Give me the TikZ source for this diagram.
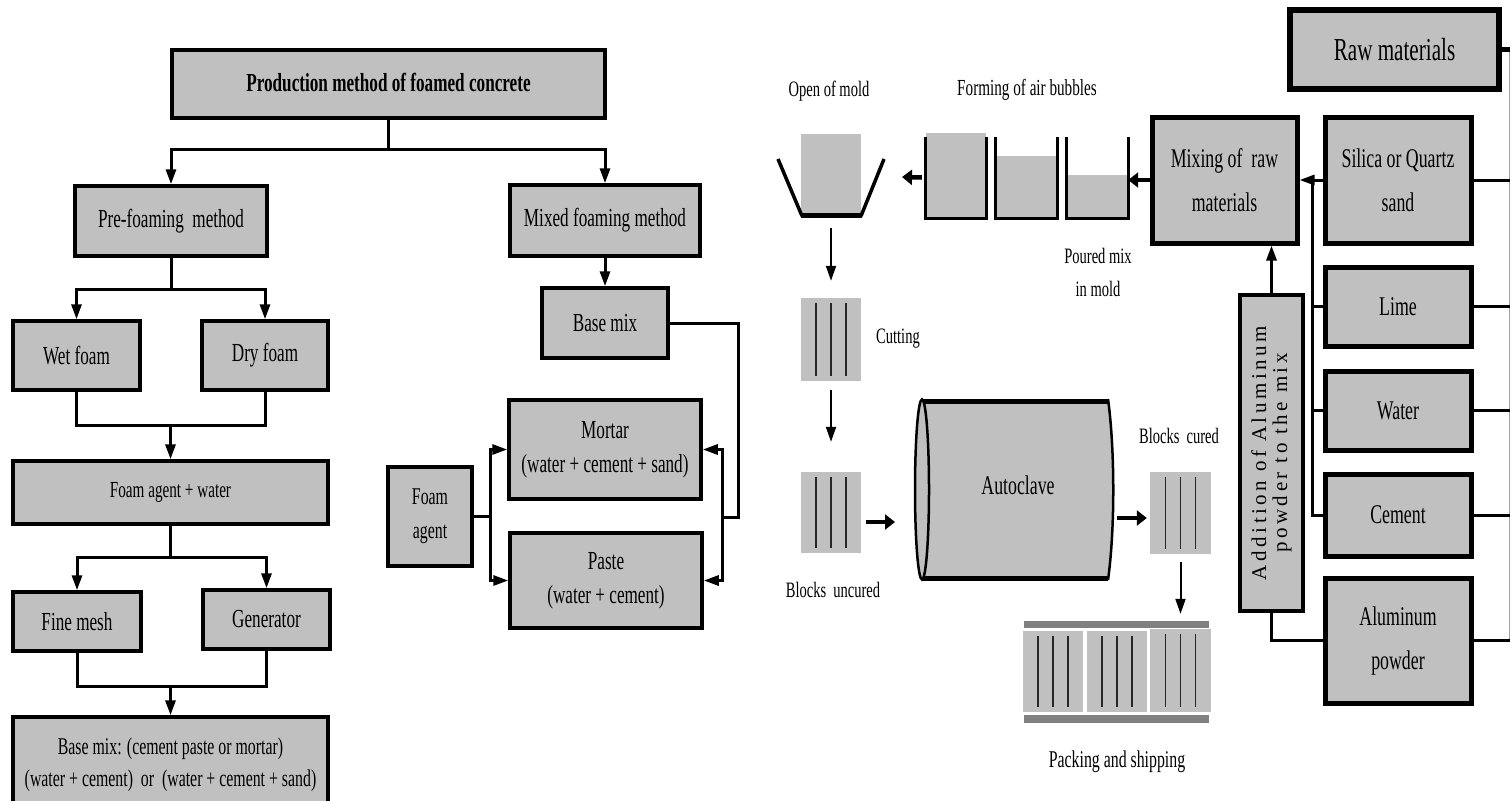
\documentclass[tikz,border=0pt]{standalone}
\usepackage{fontspec}
\setmainfont[FakeStretch=0.66]{Liberation Serif}
\newfontfamily\addfont[LetterSpace=17]{Liberation Serif}
\usetikzlibrary{arrows.meta}
\definecolor{boxgray}{HTML}{C0C0C0}
\definecolor{bargray}{HTML}{808080}
\definecolor{edgegray}{HTML}{A0A0A0}
\newcommand\fsz[2]{\fontsize{#1}{#2}\selectfont}
\newcommand\blines[1]{\foreach \dx in {-15,0,15}{\draw[line width=1.1pt,black!85] ([xshift=\dx pt,yshift=-5pt]#1.north) -- ([xshift=\dx pt,yshift=5pt]#1.south);}}
\begin{document}
\begin{tikzpicture}[x=1pt,y=-1pt,
  bx/.style={draw=black, line width=3.5pt, fill=boxgray, inner sep=0pt, align=center, font=\fsz{26}{34}},
  rbx/.style={bx, line width=5pt, font=\fsz{27}{44}},
  ln/.style={line width=3pt, line join=miter},
  arr/.style={ln, -{Triangle[length=15pt,width=10pt]}},
  tarr/.style={line width=4.5pt, -{Triangle[length=10pt,width=15pt]}},
  darr/.style={line width=2pt, -{Triangle[length=15pt,width=10pt]}},
  blk/.style={fill=boxgray, inner sep=0pt, minimum width=60pt},
  wall/.style={line width=3pt, line join=miter},
  lbl/.style={font=\fsz{22}{33}, align=center, inner sep=0pt}]
\useasboundingbox (0,0) rectangle (1511,800);
\clip (0,0) rectangle (1511,800);

% ---------------- Left: production method ----------------
\node[bx, minimum width=433pt, minimum height=68pt] (title) at (388.5,84) {\raisebox{3pt}{\bfseries Production method of foamed concrete}};
\node[bx, minimum width=192pt, minimum height=70pt] (pre) at (171,221) {Pre-foaming\ \ method};
\node[bx, minimum width=190pt, minimum height=71pt] (mixed) at (605,220.5) {Mixed foaming method};
\node[bx, minimum width=127pt, minimum height=69pt] (wet) at (76.5,355.5) {Wet foam};
\node[bx, minimum width=126pt, minimum height=69pt] (dry) at (265,355.5) {Dry foam};
\node[bx, minimum width=315pt, minimum height=63pt, font=\fsz{23}{30}] (fw) at (170.5,492.5) {Foam agent + water};
\node[bx, minimum width=128pt, minimum height=59pt] (fine) at (77,621.5) {Fine mesh};
\node[bx, minimum width=127pt, minimum height=59pt] (gen) at (266.5,619.5) {Generator};
\node[bx, minimum width=315pt, minimum height=95pt, font=\fsz{24}{32}] (base) at (170.5,764.5) {Base mix: (cement paste or mortar)\\(water + cement)\ \ or\ \ (water + cement + sand)};

\draw[ln] (title.south) -- ++(0,30) coordinate (t1);
\draw[arr] (t1) -| (pre.north);
\draw[arr] (t1) -| (mixed.north);
\draw[ln] (pre.south) -- ++(0,32) coordinate (p1);
\draw[arr] (p1) -| (wet.north);
\draw[arr] (p1) -| (dry.north);
\coordinate (w1) at (170.5,425);
\draw[ln] (wet.south) |- (w1) -| (dry.south);
\draw[arr] (w1) -- (fw.north);
\draw[ln] (fw.south) -- ++(0,32) coordinate (f1);
\draw[arr] (f1) -| (fine.north);
\draw[arr] (f1) -| (gen.north);
\coordinate (g1) at (170.5,686);
\draw[ln] (fine.south) |- (g1) -| (gen.south);
\draw[arr] (g1) -- (base.north);

% ---------------- Middle: mixed foaming ----------------
\node[bx, minimum width=126pt, minimum height=70pt] (bm) at (605,323) {Base mix};
\node[bx, minimum width=192pt, minimum height=99pt] (mortar) at (605,449.5) {Mortar\\(water + cement + sand)};
\node[bx, minimum width=192pt, minimum height=95pt] (paste) at (606,580.5) {Paste\\(water + cement)};
\node[bx, minimum width=84pt, minimum height=99pt, font=\fsz{24}{34}] (fa) at (430,516.5) {Foam\\agent};

\draw[arr] (mixed.south) -- (bm.north);
\coordinate (r1) at (738,517);
\coordinate (r2) at (722,517);
\draw[ln] (bm.east) -| (r1) -- (r2);
\draw[arr] (r2) |- (mortar.east);
\draw[arr] (r2) |- (paste.east);
\coordinate (fj) at (490,516.5);
\draw[ln] (fa.east) -- (fj);
\draw[arr] (fj) |- (mortar.west);
\draw[arr] (fj) |- (paste.west);

% ---------------- Right: autoclaved process ----------------
\node[rbx, line width=6pt, minimum width=209pt, minimum height=79pt, font=\fsz{32}{40}] (raw) at (1394.5,49.5) {Raw materials};
\node[rbx, minimum width=145pt, minimum height=126pt] (mix) at (1224.5,180) {Mixing of\ \ raw\\materials};
\node[rbx, minimum width=146pt, minimum height=126pt] (sil) at (1398,180) {Silica or Quartz\\sand};
\node[rbx, minimum width=146pt, minimum height=79pt] (lime) at (1398,306.5) {Lime};
\node[rbx, minimum width=146pt, minimum height=79pt] (water) at (1398,410.5) {Water};
\node[rbx, minimum width=146pt, minimum height=82pt] (cem) at (1398,515) {Cement};
\node[rbx, minimum width=146pt, minimum height=125pt] (alu) at (1398,640.5) {Aluminum\\powder};
\node[bx, line width=4pt, minimum width=63pt, minimum height=316pt] (add) at (1271.5,453) {};
\node[rotate=90, align=center, inner sep=0pt, font={\addfont\fontsize{21}{21}\selectfont}] (addt) at (add.center) {Addition of Aluminum\\powder to the mix};

\draw[arr] (sil.west) -- (mix.east);
\coordinate (bus) at (1312,180);
\draw[ln] (bus) |- (cem.west);
\draw[ln] (bus |- lime.west) -- (lime.west);
\draw[ln] (bus |- water.west) -- (water.west);
\draw[arr] (add.north) -- (add.north |- mix.south);
\draw[ln] (add.south) |- (alu.west);

\coordinate (edge) at (1509.5,0);
\draw[line width=1.3pt, edgegray] (raw.east -| edge) -- (alu.east -| edge);
\draw[ln, line width=5pt] (raw.east) -- (raw.east -| edge);
\draw[ln] (sil.east) -- (sil.east -| edge);
\draw[ln] (lime.east) -- (lime.east -| edge);
\draw[ln] (water.east) -- (water.east -| edge);
\draw[ln] (cem.east) -- (cem.east -| edge);
\draw[ln] (alu.east) -- (alu.east -| edge);

% labels
\node[lbl] (lopen) at (829,91) {Open of mold};
\node[lbl, font=\fsz{23}{33}] (lform) at (1027,90) {Forming of air bubbles};
\node[lbl] (lpour) at (1098,272) {Poured mix\\in mold};
\node[lbl] (lcut) at (898,339) {Cutting};
\node[lbl] (lunc) at (833,590) {Blocks\ \ uncured};
\node[lbl] (lcur) at (1179,436) {Blocks\ \ cured};
\node[lbl, font=\fsz{24}{33}] (lpack) at (1117,762) {Packing and shipping};

% molds
\node[inner sep=0pt, minimum width=60pt, minimum height=81pt] (m1) at (956,177.5) {};
\node[inner sep=0pt, minimum width=61pt, minimum height=81pt] (m2) at (1026.5,177.5) {};
\node[inner sep=0pt, minimum width=61pt, minimum height=81pt] (m3) at (1097.5,177.5) {};
\fill[boxgray] (926,133) rectangle (986,218);
\fill[boxgray] (996,156) rectangle (1057,218);
\fill[boxgray] (1067,175) rectangle (1128,218);
\draw[wall] (m1.north west) -- (m1.south west) -- (m1.south east) -- (m1.north east);
\draw[wall] (m2.north west) -- (m2.south west) -- (m2.south east) -- (m2.north east);
\draw[wall] (m3.north west) -- (m3.south west) -- (m3.south east) -- (m3.north east);

% open mold
\node[blk, minimum height=82pt] (om) at (831,175) {};
\draw[wall, line width=3.5pt] (778,159) -- (802,216);
\draw[wall, line width=3.5pt] (861,216) -- (884,159);
\draw[line width=5pt] (801,215.5) -- (862,215.5);
\coordinate (omR) at (902,177);
\draw[tarr] (mix.west) -- (mix.west -| m3.east);
\draw[tarr] ([xshift=-4pt]m1.west) -- (omR);

% blocks
\node[blk, minimum height=83pt] (cut) at (831,339.5) {};
\blines{cut}
\node[blk, minimum height=81pt] (unc) at (831,512.5) {};
\blines{unc}
\node[blk, minimum width=61pt, minimum height=82pt] (cured) at (1180.5,513) {};
\blines{cured}
\draw[darr] ([yshift=-12pt]om.south) -- ([yshift=17pt]cut.north);
\draw[darr] ([yshift=-9pt]cut.south) -- ([yshift=30pt]unc.north);

% autoclave
\fill[boxgray] (922,399) -- (1108,399) .. controls (1115,450) and (1115,530) .. (1108,580) -- (922,580) -- cycle;
\draw[line width=5pt] (922,401.5) -- (1108,401.5);
\draw[line width=5pt] (922,578) -- (1108,578);
\draw[line width=2.5pt] (1108,399) .. controls (1115,450) and (1115,530) .. (1108,580);
\draw[line width=2.5pt, fill=boxgray] (922,489.5) ellipse [x radius=7pt, y radius=90pt];
\node[font=\fsz{27}{32}] (ac) at (1018,485) {Autoclave};
\coordinate (acL) at (895,522);
\coordinate (acR) at (1117,518);
\draw[tarr] ([xshift=5pt,yshift=-9.5pt]unc.east) -- (acL);
\draw[tarr] (acR) -- ([xshift=-3pt,yshift=-5pt]cured.west);

% packing
\fill[bargray] (1024,621) rectangle (1209,628);
\fill[bargray] (1024,715) rectangle (1209,723);
\node[blk, minimum height=81pt] (pk1) at (1053,671.5) {};
\blines{pk1}
\node[blk, minimum height=81pt] (pk2) at (1117,671.5) {};
\blines{pk2}
\node[blk, minimum width=61pt, minimum height=83pt] (pk3) at (1180.5,670.5) {};
\blines{pk3}
\draw[darr] ([yshift=-8pt]cured.south) -- ([yshift=15pt]pk3.north);
\end{tikzpicture}
\end{document}
